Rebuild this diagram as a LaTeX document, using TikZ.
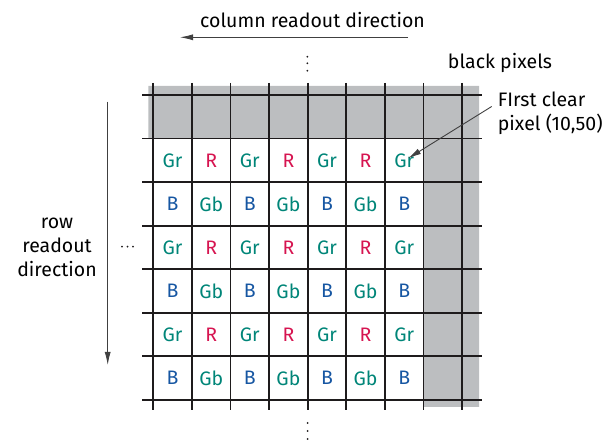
\documentclass[tikz,border=0pt]{standalone}
\usepackage{fontspec}
\setmainfont{Fira Sans}
\usetikzlibrary{arrows.meta}
\definecolor{pixgreen}{RGB}{0,133,120}
\definecolor{pixred}{RGB}{214,20,80}
\definecolor{pixblue}{RGB}{22,86,162}
\definecolor{pixgray}{RGB}{188,190,192}
\definecolor{gridline}{RGB}{30,27,28}

\begin{document}
\begin{tikzpicture}[>={Latex[length=13bp,width=6bp]},line join=bevel,
  every node/.style={font=\fontsize{19.5bp}{24bp}\selectfont},
  gr/.style={text=pixgreen}, rd/.style={text=pixred}, bl/.style={text=pixblue},
  gridln/.style={draw=gridline,line width=1.8bp},
  dir/.style={draw=black!75,line width=0.9bp,->}]
%%
\useasboundingbox (0bp,0bp) rectangle (613bp,441bp);
\fill [pixgray] (148.3bp,355bp) -- (479bp,355bp) -- (479bp,34bp) -- (423.5bp,34bp) -- (423.5bp,302.4bp) -- (148.3bp,302.4bp) -- cycle;
%
\draw [gridln] (153.3bp,358bp) -- (153.3bp,31bp);
\draw [gridln] (191.9bp,358bp) -- (191.9bp,31bp);
\draw [gridln] (230.5bp,358bp) -- (230.5bp,31bp);
\draw [gridln] (269.1bp,358bp) -- (269.1bp,31bp);
\draw [gridln] (307.7bp,358bp) -- (307.7bp,31bp);
\draw [gridln] (346.3bp,358bp) -- (346.3bp,31bp);
\draw [gridln] (384.9bp,358bp) -- (384.9bp,31bp);
\draw [gridln] (423.5bp,358bp) -- (423.5bp,31bp);
\draw [gridln] (462.1bp,358bp) -- (462.1bp,31bp);
\draw [gridln] (142bp,346bp) -- (481.7bp,346bp);
\draw [gridln] (142bp,302.4bp) -- (481.7bp,302.4bp);
\draw [gridln] (142bp,258.9bp) -- (481.7bp,258.9bp);
\draw [gridln] (142bp,215.3bp) -- (481.7bp,215.3bp);
\draw [gridln] (142bp,171.7bp) -- (481.7bp,171.7bp);
\draw [gridln] (142bp,128.1bp) -- (481.7bp,128.1bp);
\draw [gridln] (142bp,84.6bp) -- (481.7bp,84.6bp);
\draw [gridln] (142bp,41bp) -- (481.7bp,41bp);
%
\node (cell_1_0) at (172.6bp,280.7bp) [gr] {Gr};
\node (cell_1_1) at (211.2bp,280.7bp) [rd] {R};
\node (cell_1_2) at (249.8bp,280.7bp) [gr] {Gr};
\node (cell_1_3) at (288.4bp,280.7bp) [rd] {R};
\node (cell_1_4) at (327.0bp,280.7bp) [gr] {Gr};
\node (cell_1_5) at (365.6bp,280.7bp) [rd] {R};
\node (cell_1_6) at (404.2bp,280.7bp) [gr] {Gr};
\node (cell_2_0) at (172.6bp,237.1bp) [bl] {B};
\node (cell_2_1) at (211.2bp,237.1bp) [gr] {Gb};
\node (cell_2_2) at (249.8bp,237.1bp) [bl] {B};
\node (cell_2_3) at (288.4bp,237.1bp) [gr] {Gb};
\node (cell_2_4) at (327.0bp,237.1bp) [bl] {B};
\node (cell_2_5) at (365.6bp,237.1bp) [gr] {Gb};
\node (cell_2_6) at (404.2bp,237.1bp) [bl] {B};
\node (cell_3_0) at (172.6bp,193.5bp) [gr] {Gr};
\node (cell_3_1) at (211.2bp,193.5bp) [rd] {R};
\node (cell_3_2) at (249.8bp,193.5bp) [gr] {Gr};
\node (cell_3_3) at (288.4bp,193.5bp) [rd] {R};
\node (cell_3_4) at (327.0bp,193.5bp) [gr] {Gr};
\node (cell_3_5) at (365.6bp,193.5bp) [rd] {R};
\node (cell_3_6) at (404.2bp,193.5bp) [gr] {Gr};
\node (cell_4_0) at (172.6bp,149.9bp) [bl] {B};
\node (cell_4_1) at (211.2bp,149.9bp) [gr] {Gb};
\node (cell_4_2) at (249.8bp,149.9bp) [bl] {B};
\node (cell_4_3) at (288.4bp,149.9bp) [gr] {Gb};
\node (cell_4_4) at (327.0bp,149.9bp) [bl] {B};
\node (cell_4_5) at (365.6bp,149.9bp) [gr] {Gb};
\node (cell_4_6) at (404.2bp,149.9bp) [bl] {B};
\node (cell_5_0) at (172.6bp,106.4bp) [gr] {Gr};
\node (cell_5_1) at (211.2bp,106.4bp) [rd] {R};
\node (cell_5_2) at (249.8bp,106.4bp) [gr] {Gr};
\node (cell_5_3) at (288.4bp,106.4bp) [rd] {R};
\node (cell_5_4) at (327.0bp,106.4bp) [gr] {Gr};
\node (cell_5_5) at (365.6bp,106.4bp) [rd] {R};
\node (cell_5_6) at (404.2bp,106.4bp) [gr] {Gr};
\node (cell_6_0) at (172.6bp,62.8bp) [bl] {B};
\node (cell_6_1) at (211.2bp,62.8bp) [gr] {Gb};
\node (cell_6_2) at (249.8bp,62.8bp) [bl] {B};
\node (cell_6_3) at (288.4bp,62.8bp) [gr] {Gb};
\node (cell_6_4) at (327.0bp,62.8bp) [bl] {B};
\node (cell_6_5) at (365.6bp,62.8bp) [gr] {Gb};
\node (cell_6_6) at (404.2bp,62.8bp) [bl] {B};
%
\fill [gridline] (307.4bp,384.3bp) circle (1bp);
\fill [gridline] (307.4bp,377.7bp) circle (1bp);
\fill [gridline] (307.4bp,370.3bp) circle (1bp);
\fill [gridline] (307.7bp,18bp) circle (1bp);
\fill [gridline] (307.7bp,10bp) circle (1bp);
\fill [gridline] (307.7bp,2bp) circle (1bp);
\fill [gridline] (122bp,194.3bp) circle (1bp);
\fill [gridline] (127.5bp,194.3bp) circle (1bp);
\fill [gridline] (133bp,194.3bp) circle (1bp);
%
\node (col_label) at (312.5bp,421bp) [draw=none] {column readout direction};
\node (row_label) at (57bp,194bp) [draw=none,align=center] {row\\readout\\direction};
\node (black_label) at (500bp,378bp) [draw=none] {black pixels};
\node (clear_label) at (497.7bp,327.5bp) [draw=none,anchor=west,align=left,inner sep=0pt] {FIrst clear\\pixel (10,50)};
\coordinate (col_tail) at (408bp,403.7bp);
\coordinate (col_head) at (180bp,403.7bp);
\coordinate (row_tail) at (107.7bp,339.3bp);
\coordinate (row_head) at (107.7bp,76bp);
\draw [dir] (col_tail) -- (col_head);
\draw [dir] (row_tail) -- (row_head);
\draw [dir] ([shift={(-6bp,7bp)}]clear_label.west) -- ([shift={(4bp,2bp)}]cell_1_6.center);
%
\end{tikzpicture}
\end{document}
